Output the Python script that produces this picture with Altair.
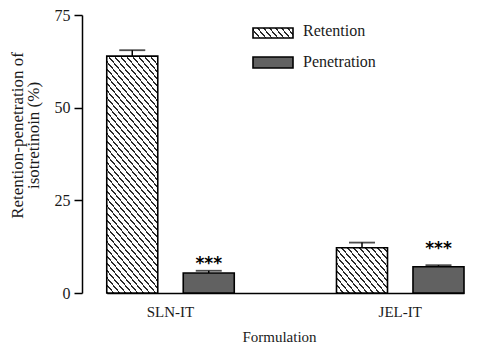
import altair as alt
import pandas as pd

# ---- data ----
formulations = ["SLN-IT", "JEL-IT"]
measures = ["Retention", "Penetration"]
retention = [63.9, 12.2]
retention_err = [1.6, 1.4]
penetration = [5.4, 7.1]
penetration_err = [0.6, 0.4]
star_labels = ["***", "***"]
star_y = [9.1, 13.3]

rows = []
for i, f in enumerate(formulations):
    rows.append({"formulation": f, "measure": "Retention", "value": retention[i],
                 "upper": retention[i] + retention_err[i]})
    rows.append({"formulation": f, "measure": "Penetration", "value": penetration[i],
                 "upper": penetration[i] + penetration_err[i]})
df = pd.DataFrame(rows)
stars = pd.DataFrame({"formulation": formulations, "measure": ["Penetration"] * 2,
                      "value": star_y, "label": star_labels})
legend_df = pd.DataFrame({"label": measures})

# ---- layout / style ----
W, H = 395, 278
PX_PER_UNIT = H / 75.0
BAR_W = 51
FONT = "Liberation Serif"
PEN_FILL = "#616161"


def hatch(w, h, period=6.0, slope=1.2, frac=0.28, ink="#2a2a2a"):
    r = h / (w * slope)
    t = (1 + r) / (1 + r * r)
    n = w * (1 + r) / period
    stops = []
    k = 0
    while k / n < 1:
        a = k / n
        b = min((k + frac) / n, 1.0)
        stops += [alt.GradientStop(offset=a, color="white"),
                  alt.GradientStop(offset=a, color=ink),
                  alt.GradientStop(offset=b, color=ink),
                  alt.GradientStop(offset=b, color="white")]
        k += 1
    stops.append(alt.GradientStop(offset=1, color="white"))
    return alt.Gradient(gradient="linear", stops=stops, x1=0, y1=1, x2=t, y2=1 - t * r)


x_enc = alt.X("formulation:N", sort=formulations,
              scale=alt.Scale(range=[24.75, 382], paddingInner=0.445, paddingOuter=0),
              axis=alt.Axis(title="Formulation", labelAngle=0, ticks=False,
                            labelFontSize=15, labelPadding=11, titleFontSize=15,
                            titleFontWeight="normal", titleY=36, titleX=197,
                            domainWidth=1.5))
xo_enc = alt.XOffset("measure:N", sort=measures,
                     scale=alt.Scale(paddingInner=0.333, paddingOuter=0))


def y_enc(field):
    return alt.Y(f"{field}:Q",
                 scale=alt.Scale(domain=[0, 75], nice=False),
                 axis=alt.Axis(values=[0, 25, 50, 75], grid=False, tickSize=8,
                               tickWidth=1.5, domainWidth=1.5, labelFontSize=16,
                               labelPadding=4,
                               title=["Retention-penetration of", "isotretinoin (%)"],
                               titleFontSize=17, titleFontWeight="normal",
                               titleBaseline="middle", titleX=-65, titleY=120,
                               titleLineHeight=16))


base = alt.Chart(df)

layers = []
for i, f in enumerate(formulations):
    h = retention[i] * PX_PER_UNIT
    layers.append(
        base.transform_filter((alt.datum.measure == "Retention") & (alt.datum.formulation == f))
        .mark_bar(fill=hatch(BAR_W, h), stroke="black", strokeWidth=1.6)
        .encode(x=x_enc, xOffset=xo_enc, y=y_enc("value"))
    )

layers.append(
    base.transform_filter(alt.datum.measure == "Penetration")
    .mark_bar(fill=PEN_FILL, stroke="black", strokeWidth=1.6)
    .encode(x=x_enc, xOffset=xo_enc, y=y_enc("value"))
)

layers.append(
    base.mark_rule(color="black", strokeWidth=1.5)
    .encode(x=x_enc, xOffset=xo_enc, y=y_enc("value"), y2="upper:Q")
)
layers.append(
    base.mark_tick(color="black", thickness=1.8, size=26, orient="horizontal")
    .encode(x=x_enc, xOffset=xo_enc, y=y_enc("upper"))
)

layers.append(
    alt.Chart(stars).mark_text(font="DejaVu Sans", fontWeight="bold", fontSize=17,
                               baseline="middle", dy=5, color="black")
    .encode(x=x_enc, xOffset=xo_enc, y=y_enc("value"), text="label:N")
)

# ---- manual legend ----
leg = alt.Chart(legend_df)
layers.append(
    leg.transform_filter(alt.datum.label == "Retention")
    .mark_rect(fill=hatch(40, 10, period=6.0, slope=1.2), stroke="black", strokeWidth=1.6)
    .encode(x=alt.value(171), x2=alt.value(211), y=alt.value(13), y2=alt.value(23))
)
layers.append(
    leg.transform_filter(alt.datum.label == "Penetration")
    .mark_rect(fill=PEN_FILL, stroke="black", strokeWidth=1.6)
    .encode(x=alt.value(171), x2=alt.value(211), y=alt.value(42), y2=alt.value(53))
)
layers.append(
    leg.transform_filter(alt.datum.label == "Retention")
    .mark_text(align="left", baseline="middle", font=FONT, fontSize=16, color="#1a1a1a")
    .encode(x=alt.value(221), y=alt.value(16), text="label:N")
)
layers.append(
    leg.transform_filter(alt.datum.label == "Penetration")
    .mark_text(align="left", baseline="middle", font=FONT, fontSize=16, color="#1a1a1a")
    .encode(x=alt.value(221), y=alt.value(47), text="label:N")
)

chart = (
    alt.layer(*layers)
    .properties(width=W, height=H, autosize="none",
                padding={"left": 74, "top": 7, "right": 0, "bottom": 50},
                background="white")
    .configure_view(stroke=None)
    .configure_axis(labelFont=FONT, titleFont=FONT, labelColor="#1a1a1a",
                    titleColor="#1a1a1a", domainColor="black", tickColor="black")
)

chart.save("out.html", embed_options={"renderer": "svg", "actions": False})
